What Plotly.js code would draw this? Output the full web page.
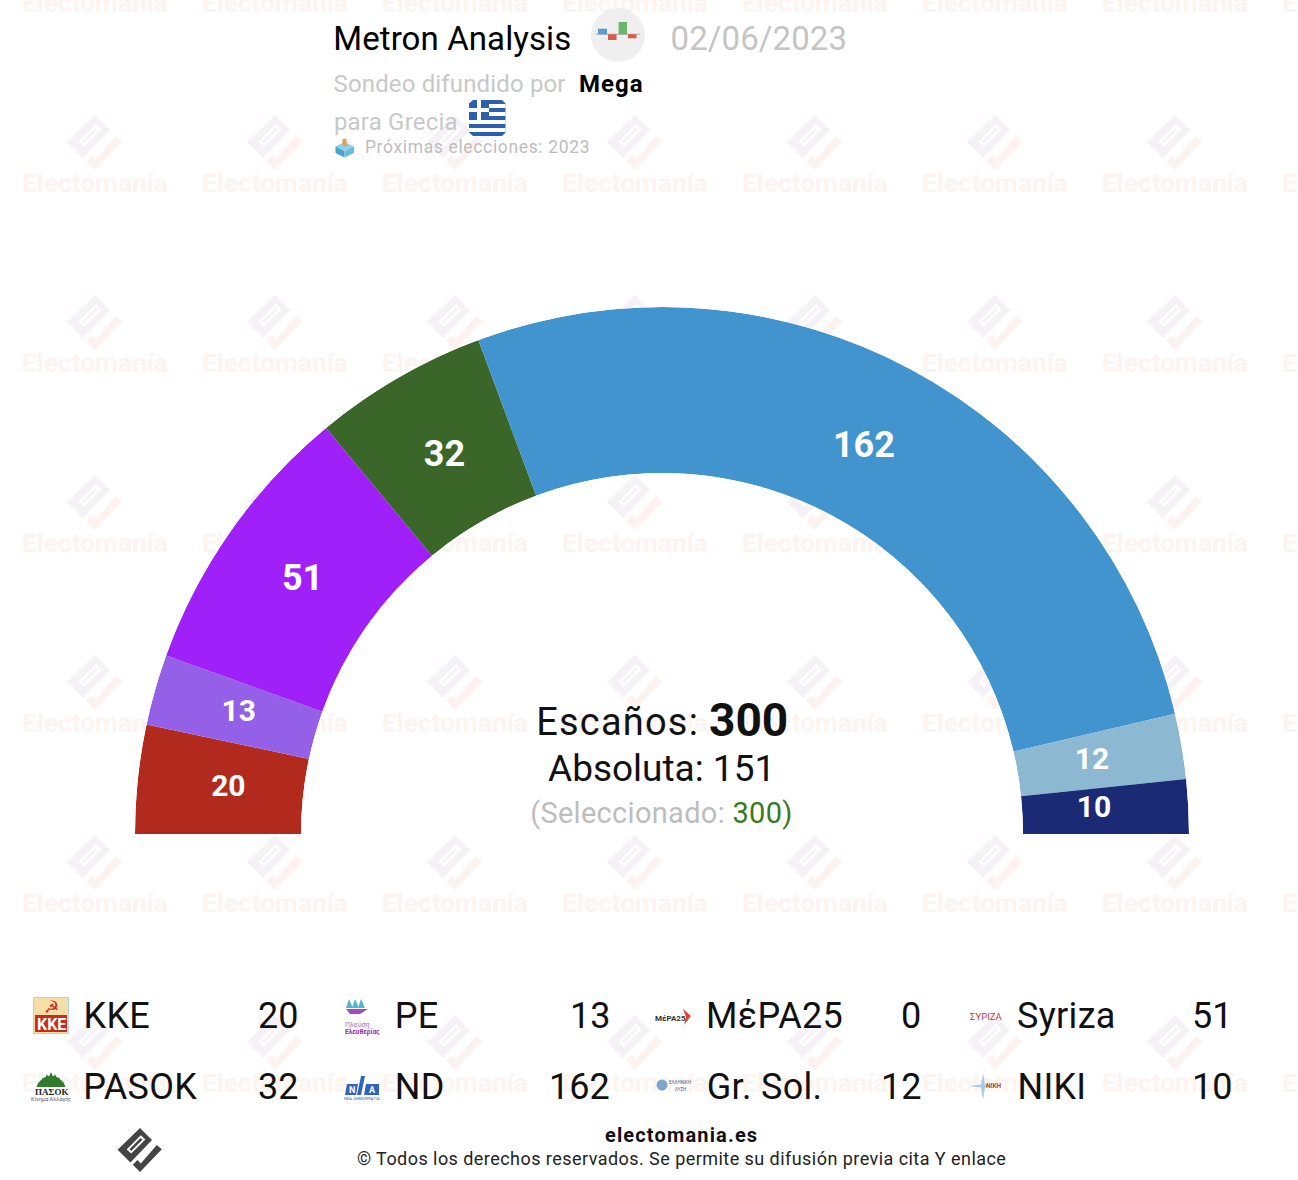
<!DOCTYPE html>
<html><head><meta charset="utf-8">
<script src="https://cdn.plot.ly/plotly-3.0.1.min.js"></script>
<style>html,body{margin:0;padding:0;background:#fff;overflow:hidden}#c{width:1298px;height:1180px}</style>
</head><body><div id="c"></div>
<script>
const partyNames = ['KKE','PE','MέPA25','Syriza','PASOK','ND','Gr. Sol.','NIKI'];
const partySeats = [20,13,0,51,32,162,12,10];
const partyColors = ['#B22A1E','#9560E8','#E0301E','#A020FA','#3A662A','#4294CE','#8DB8D2','#1B2A75'];
const labelSizes = [30,30,30,36,36,36,30,30];
const labelRadial = [0.452,0.476,0.476,0.472,0.447,0.450,0.452,0.432];
const labelThetaShift = [0,0,0,0,0,-0.6,0,-0.25];
const totalSeats = 300, majority = 151, selected = 300;

const F = 'Roboto, sans-serif';
const W = 1298, H = 1180;
const shapes = [], ann = [], spacing = {};
function poly(pts, fill, layer){
  shapes.push({type:'path', xref:'x', yref:'y', layer:layer||'above', line:{width:0}, fillcolor:fill,
    path:'M'+pts.map(p=>p[0]+' '+p[1]).join('L')+'Z'});
}
function rect(x0,y0,x1,y1,fill,layer){ poly([[x0,y0],[x1,y0],[x1,y1],[x0,y1]],fill,layer); }
function circ(cx,cy,r,fill,layer){
  shapes.push({type:'circle',xref:'x',yref:'y',layer:layer||'above',x0:cx-r,x1:cx+r,y0:cy-r,y1:cy+r,fillcolor:fill,line:{width:0}});
}
function txt(x,y,t,size,color,anchor,ls,family){
  anchor=anchor||'left';
  if(ls){
    const n=t.replace(/<[^>]*>/g,'').length;
    spacing[ann.length]=ls;
    if(anchor==='left') x+=n*ls/2;
    if(anchor==='right') x-=n*ls/2;
  }
  ann.push({xref:'x',yref:'y',x:x,y:y,text:t,showarrow:false,xanchor:anchor,yanchor:'middle',
    font:{family:family||F,size:size,color:color},borderpad:0,borderwidth:0});
}
// Brand mark
function mark(cx,cy,s,body,check,slot,inner,layer){
  const m=a=>a.map(p=>[cx+p[0]*s,cy+p[1]*s]);
  poly(m([[0,-28],[15,-13],[-12,15],[-28,-1]]),body,layer);
  poly(m([[1,-19],[6.7,-13.7],[-11,3.7],[-16.7,-1.3]]),slot,layer);
  poly(m([[0.6,-15.5],[3,-13.5],[-11,0.5],[-13.2,-1.5]]),inner,layer);
  poly(m([[21,-7],[27.3,-1.7],[0,27],[-9,17.7],[-3.3,12],[1,16.3]]),check,layer);
}
// Watermark grid
const wmX=[], wmY=[], wmT=[];
for(let i=0;i<8;i++){
  for(let j=0;j<7;j++){ wmX.push(95+180*i); wmY.push(5+180*j); wmT.push('Electomanía'); }
  for(let j=0;j<6;j++){ mark(95+180*i,143+180*j,1,'#F6F1F7','#FCF3F0','#FFFFFF','#F8F3F7','below'); }
}
// Header
txt(333,38,'Metron Analysis',33,'#000','left',0.1);
circ(618,35,27,'#EFEFEF');
rect(596,33.8,640,34.8,'#AAAAAA');
rect(598,28.7,607,34.3,'#5B9BD5');
rect(608,34.3,616.5,40,'#DD5B45');
rect(618.6,22,627,34.3,'#69B76E');
rect(628,34.3,636.5,38.3,'#DD5B45');
txt(670.5,38,'02/06/2023',33,'#C4C4C4','left',0.1);
txt(333.5,84,'Sondeo difundido por',24,'#C8C8C8','left',0.15);
txt(579,84,'<b>Mega</b>',24,'#000','left',1);
txt(333.5,122,'para Grecia',24,'#C8C8C8','left',0.2);
// Flag
poly([[473,100],[502,100],[505.5,103.5],[505.5,132.5],[502,136],[473,136],[469,132.5],[469,103.5]],'#2B5FB0');
[104,112,120,128].forEach(y=>rect(y<120?489:469,y,505.5,y+4,'#FFFFFF'));
rect(469,108,489,112,'#FFFFFF');
rect(477,100,481,120,'#FFFFFF');
// Ballot box
poly([[344.5,142],[354,146.5],[344.5,151],[335.5,146.5]],'#8FD0E8');
poly([[335.5,146.5],[344.5,151],[344.5,157.5],[335.5,153]],'#4BA3CC');
poly([[354,146.5],[344.5,151],[344.5,157.5],[354,153]],'#6DBBDC');
rect(342.5,139,346.5,146,'#EE9A3C');
txt(365,147,'Próximas elecciones: 2023',17.5,'#BDBDBD','left',0.65);
// Center
txt(617.5,721.5,'Escaños:',38,'#111','center',1.2);
txt(748,719.5,'<b>'+totalSeats+'</b>',46,'#111','center');
txt(661,768,'Absoluta: '+majority,37,'#111','center');
txt(661,813,'(Seleccionado: <span style="color:#3A7A1E">'+selected+')</span>',29,'#BDBDBD','center',0.3);
// Legend
const colX=[83.5,394.5,706.5,1017.5], valX=[298,610,921,1232], rowY=[1016,1087];
partyNames.forEach((n,i)=>{
  const c=i%4, r=Math.floor(i/4);
  txt(colX[c],rowY[r],n,36,'#111','left',0.3);
  txt(valX[c],rowY[r],String(partySeats[i]),36,'#111','right');
});
// KKE icon
rect(33,997,69,1034,'#A9D3EE');
rect(34,998,68,1033,'#F6DFA6');
rect(35,1015,67,1032,'#CE2A1C');
txt(51,1007,'☭',17,'#CE2A1C','center',0,'DejaVu Sans');
txt(51,1024,'<b>KKE</b>',16,'#FFF','center');
// PE icon
[[349,1008],[355,1008],[361,1008]].forEach(p=>poly([[p[0],p[1]-9],[p[0]+4,p[1]],[p[0]-3,p[1]]],'#4DB8CE'));
poly([[346,1009],[368,1009],[360,1014],[350,1014]],'#A24BC3');
txt(345,1024,'Πλεύση',7,'#9E6FB7');
txt(345,1031,'<b>Ελευθερίας</b>',6.5,'#8E2FA8');
// MePA25 icon
txt(655,1018,'<b>MέPA25</b>',8,'#333');
poly([[683,1009],[691,1016],[684,1025],[686,1017]],'#E0452E');
// Syriza icon
txt(985.5,1016,'ΣΥΡΙΖΑ',9.5,'#C0394B','center');
// PASOK icon
[[39,1081],[43,1077],[47,1074],[51,1072],[55,1074],[59,1077],[63,1081]].forEach(p=>poly([[p[0],p[1]],[p[0]-2.5,p[1]+6],[p[0]+2.5,p[1]+6]],'#2F7A2C'));
poly([[38,1087],[40,1081],[45,1077],[51,1075.5],[57,1077],[62,1081],[64,1087]],'#2F7A2C');
txt(51,1092,'<b>ΠΑΣΟΚ</b>',9,'#222','center',0,'Liberation Serif');
txt(51,1098.5,'Κίνημα Αλλαγής',5.5,'#555','center');
// ND icon
poly([[347,1084],[358,1084],[356,1095],[345,1095]],'#2F62C8');
poly([[366,1084],[379,1084],[379,1095],[364,1095]],'#2F62C8');
poly([[361,1076],[365,1076],[361,1095],[357,1095]],'#2F62C8');
txt(352,1089.5,'<b>Ν</b>',9,'#FFF','center');
txt(372,1089.5,'<b>Α</b>',9,'#FFF','center');
txt(362,1098,'ΝΕΑ ΔΗΜΟΚΡΑΤΙΑ',4.2,'#2F62C8','center');
// Greek Solution icon
circ(662,1085,5.5,'#7FA6C9');
txt(680,1082,'ΕΛΛΗΝΙΚΗ',4.5,'#3F5F8F','center');
txt(680,1089.5,'ΛΥΣΗ',4.5,'#3F5F8F','center');
// NIKI icon
poly([[968,1086],[981,1084.5],[983,1073],[985,1084.5],[990,1086],[985,1087.5],[983,1100],[981,1087.5]],'#A9CBE6');
txt(994,1086,'<b>NIKH</b>',6.5,'#B5482E','center');
// Footer
mark(140,1150.5,0.8,'#444444','#444444','#FFFFFF','#444444');
txt(681.5,1135,'<b>electomania.es</b>',20,'#111','center',1.15);
txt(681.5,1158,'© Todos los derechos reservados. Se permite su difusión previa cita Y enlace',18,'#222','center',0.45);

// Arcs
const thetas=[], widths=[], colors=[], labels=[], lsize=[], labelR=[], labelT=[];
let cum=0;
partySeats.forEach((s,i)=>{
  if(s>0){
    const t=(cum+s/2)*180/totalSeats;
    thetas.push(t);
    widths.push(s*180/totalSeats);
    colors.push(partyColors[i]);
    labels.push(String(s));
    lsize.push(labelSizes[i]);
    labelR.push(labelRadial[i]);
    labelT.push(t+labelThetaShift[i]);
  }
  cum+=s;
});
const data=[
 {type:'scatter',mode:'text',x:wmX,y:wmY,text:wmT,textposition:'middle center',xaxis:'x',yaxis:'y',
  textfont:{family:F,size:26.3,color:'#FDF4F0',weight:700},hoverinfo:'skip',showlegend:false,cliponaxis:true},
 {type:'barpolar',r:thetas.map(()=>1),theta:thetas,width:widths,marker:{color:colors,line:{width:0}},
  opacity:1,subplot:'polar',hoverinfo:'skip',showlegend:false},
 {type:'scatterpolar',mode:'text',r:labelR,theta:labelT,text:labels,subplot:'polar',
  textposition:'middle center',textfont:{family:F,color:'#FFFFFF',size:lsize,weight:700},cliponaxis:false,hoverinfo:'skip',showlegend:false}
];
const layout={
 width:W,height:H,margin:{l:0,r:0,t:0,b:0},paper_bgcolor:'#fff',plot_bgcolor:'rgba(0,0,0,0)',showlegend:false,
 xaxis:{range:[0,W],visible:false,fixedrange:true,domain:[0,1]},
 yaxis:{range:[H,0],visible:false,fixedrange:true,domain:[0,1]},
 polar:{domain:{x:[135/W,1189/W],y:[(H-834)/H,(H-307)/H]},sector:[0,180],hole:361/527,bgcolor:'rgba(0,0,0,0)',
   radialaxis:{visible:false,range:[0,1]},
   angularaxis:{visible:false,direction:'clockwise',rotation:180,thetaunit:'degrees'}},
 barmode:'overlay',
 shapes:shapes,annotations:ann
};
Plotly.newPlot('c',data,layout,{staticPlot:true,displayModeBar:false}).then(()=>{
  Object.keys(spacing).forEach(k=>{
    const t=document.querySelector('.annotation[data-index="'+k+'"] text');
    if(t) t.style.letterSpacing=spacing[k]+'px';
  });
});
</script></body></html>
